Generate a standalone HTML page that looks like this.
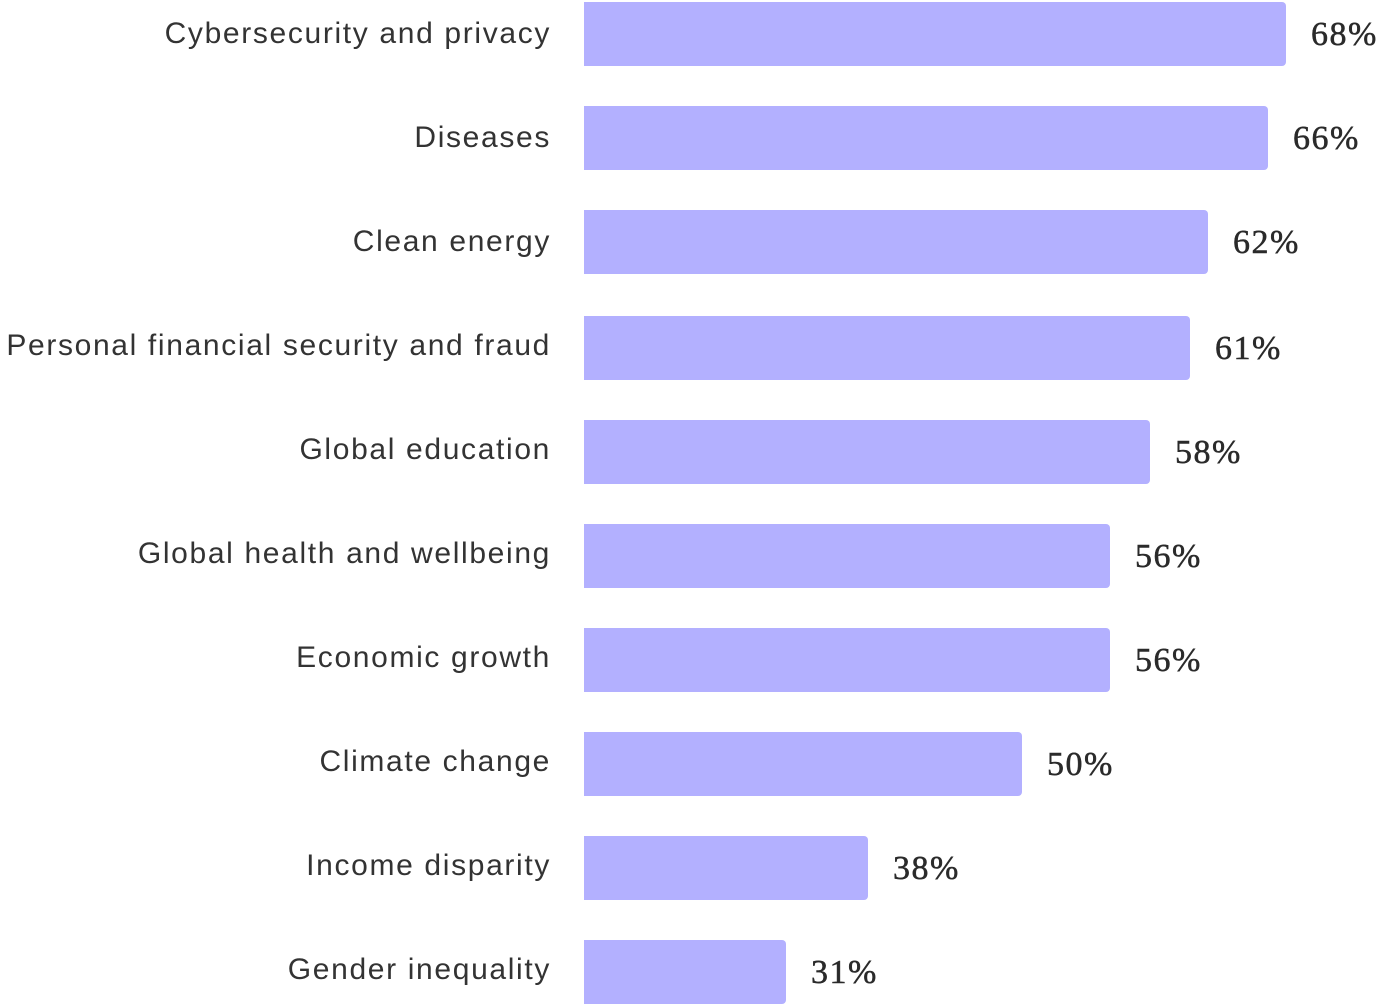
<!DOCTYPE html>
<html><head><style>
html,body{margin:0;padding:0;background:#fff;width:1386px;height:1004px;overflow:hidden}
.l{position:absolute;right:835px;font:30px "Liberation Sans",sans-serif;color:#333;white-space:nowrap;line-height:36px;letter-spacing:1.65px}
.b{position:absolute;left:584px;height:64px;background:#b3b0ff;border-radius:0 4px 4px 0}
.v{position:absolute;font:34px "Liberation Serif",serif;color:#2a2a2a;line-height:36px;letter-spacing:1.5px;-webkit-text-stroke:0.5px #2a2a2a}
</style></head><body>
<div class="l" style="top:16px">Cybersecurity and privacy</div><div class="b" style="top:2px;width:702px"></div><div class="v" style="top:17px;left:1311px">68%</div>
<div class="l" style="top:120px">Diseases</div><div class="b" style="top:106px;width:684px"></div><div class="v" style="top:121px;left:1293px">66%</div>
<div class="l" style="top:224px">Clean energy</div><div class="b" style="top:210px;width:624px"></div><div class="v" style="top:225px;left:1233px">62%</div>
<div class="l" style="top:328px">Personal financial security and fraud</div><div class="b" style="top:316px;width:606px"></div><div class="v" style="top:331px;left:1215px">61%</div>
<div class="l" style="top:432px">Global education</div><div class="b" style="top:420px;width:566px"></div><div class="v" style="top:435px;left:1175px">58%</div>
<div class="l" style="top:536px">Global health and wellbeing</div><div class="b" style="top:524px;width:526px"></div><div class="v" style="top:539px;left:1135px">56%</div>
<div class="l" style="top:640px">Economic growth</div><div class="b" style="top:628px;width:526px"></div><div class="v" style="top:643px;left:1135px">56%</div>
<div class="l" style="top:744px">Climate change</div><div class="b" style="top:732px;width:438px"></div><div class="v" style="top:747px;left:1047px">50%</div>
<div class="l" style="top:848px">Income disparity</div><div class="b" style="top:836px;width:284px"></div><div class="v" style="top:851px;left:893px">38%</div>
<div class="l" style="top:952px">Gender inequality</div><div class="b" style="top:940px;width:202px"></div><div class="v" style="top:955px;left:811px">31%</div>
</body></html>
